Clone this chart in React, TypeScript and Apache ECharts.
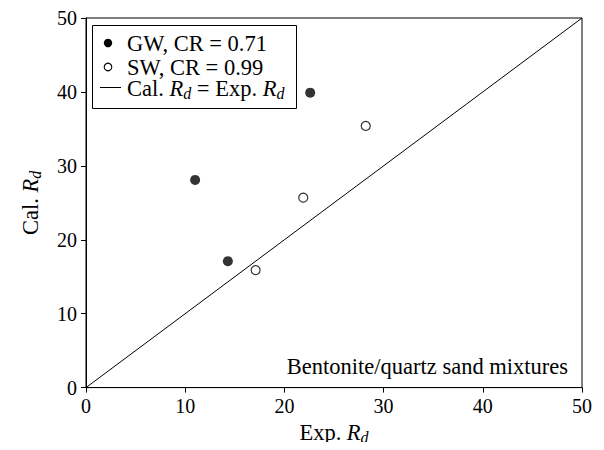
import React, { useEffect, useRef } from "react";
import * as echarts from "echarts";

const gwPoints: number[][] = [
  [11.0, 28.1],
  [14.3, 17.1],
  [22.6, 39.9],
];
const swPoints: number[][] = [
  [17.1, 15.9],
  [21.9, 25.7],
  [28.2, 35.4],
];
const identityLine: number[][] = [
  [0, 0],
  [50, 50],
];
const axisMin = 0;
const axisMax = 50;
const axisStep = 10;
const gwLabel = "GW, CR = 0.71";
const swLabel = "SW, CR = 0.99";
const noteText = "Bentonite/quartz sand mixtures";

const FONT = "Liberation Serif";
const FS = 22.5;
const TICK_FS = 20;

const rich = {
  n: { fontFamily: FONT, fontSize: FS, color: "#000", lineHeight: 26 },
  i: { fontFamily: FONT, fontSize: FS, fontStyle: "italic", color: "#000", lineHeight: 26 },
  s: {
    fontFamily: FONT,
    fontSize: 16,
    fontStyle: "italic",
    color: "#000",
    verticalAlign: "bottom",
    lineHeight: 12,
  },
};

export default function App() {
  const ref = useRef<HTMLDivElement>(null);
  useEffect(() => {
    if (!ref.current) return;
    const chart = echarts.init(ref.current, null, { renderer: "svg" });
    const axisCommon = {
      type: "value",
      min: axisMin,
      max: axisMax,
      interval: axisStep,
      axisLine: { show: true, onZero: false, lineStyle: { color: "#000", width: 1 } },
      axisTick: { show: true, inside: false, length: 5, lineStyle: { color: "#000" } },
      splitLine: { show: false },
      axisLabel: { color: "#000", fontFamily: FONT, fontSize: TICK_FS, margin: 8 },
      nameLocation: "middle",
      nameTextStyle: { rich },
    };
    chart.setOption({
      animation: false,
      backgroundColor: "#fff",
      textStyle: { fontFamily: FONT },
      grid: {
        left: 86,
        right: 22,
        top: 18,
        bottom: 58,
        show: true,
        borderColor: "#000",
        borderWidth: 1,
      },
      xAxis: {
        ...axisCommon,
        name: "{n|Exp. }{i|R}{s|d}",
        nameGap: 27,
      },
      yAxis: {
        ...axisCommon,
        axisLabel: { ...axisCommon.axisLabel, margin: 9 },
        name: "{n|Cal. }{i|R}{s|d}",
        nameGap: 43,
      },
      series: [
        {
          type: "line",
          data: identityLine,
          symbol: "none",
          lineStyle: { color: "#000", width: 1 },
          z: 1,
        },
        {
          type: "scatter",
          data: gwPoints,
          symbol: "circle",
          symbolSize: 10,
          itemStyle: { color: "#000" },
          z: 3,
        },
        {
          type: "scatter",
          data: swPoints,
          symbol: "circle",
          symbolSize: 9,
          itemStyle: { color: "#fff", borderColor: "#000", borderWidth: 1.2 },
          z: 3,
        },
      ],
      graphic: [
        {
          type: "rect",
          shape: { x: 92.5, y: 25.5, width: 204, height: 83 },
          style: { fill: "#fff", stroke: "#000", lineWidth: 1 },
          z: 10,
        },
        {
          type: "circle",
          shape: { cx: 108, cy: 43, r: 4.2 },
          style: { fill: "#000" },
          z: 11,
        },
        {
          type: "text",
          x: 127,
          y: 43,
          style: {
            text: gwLabel,
            fontFamily: FONT,
            fontSize: FS,
            fill: "#000",
            verticalAlign: "middle",
          },
          z: 11,
        },
        {
          type: "circle",
          shape: { cx: 108, cy: 67, r: 3.8 },
          style: { fill: "#fff", stroke: "#000", lineWidth: 1.1 },
          z: 11,
        },
        {
          type: "text",
          x: 127,
          y: 67,
          style: {
            text: swLabel,
            fontFamily: FONT,
            fontSize: FS,
            fill: "#000",
            verticalAlign: "middle",
          },
          z: 11,
        },
        {
          type: "line",
          shape: { x1: 100, y1: 87.5, x2: 121, y2: 87.5 },
          style: { stroke: "#000", lineWidth: 1 },
          z: 11,
        },
        {
          type: "text",
          x: 127,
          y: 88,
          style: {
            text: "{n|Cal. }{i|R}{s|d}{n| = Exp. }{i|R}{s|d}",
            rich,
            verticalAlign: "middle",
          },
          z: 11,
        },
        {
          type: "text",
          x: 568,
          y: 366,
          style: {
            text: noteText,
            fontFamily: FONT,
            fontSize: FS,
            fill: "#000",
            align: "right",
            verticalAlign: "middle",
          },
          z: 11,
        },
      ],
    });
    return () => chart.dispose();
  }, []);
  return <div ref={ref} style={{ width: 604, height: 450, margin: -8 }} />;
}
